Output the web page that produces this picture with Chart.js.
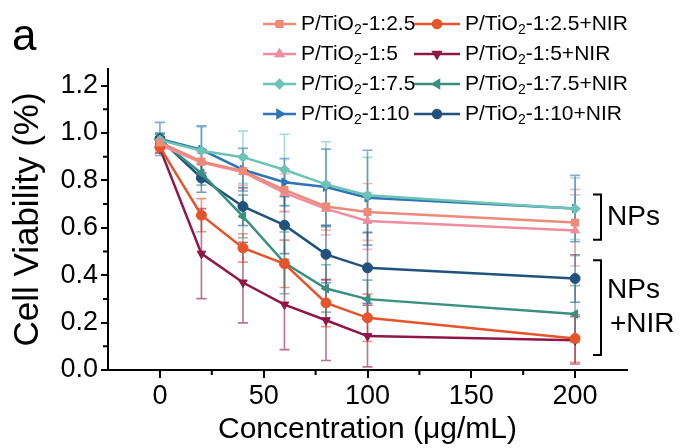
<!DOCTYPE html>
<html>
<head>
<meta charset="utf-8">
<title>Cell Viability</title>
<script src="https://cdn.jsdelivr.net/npm/chart.js@4.4.1/dist/chart.umd.min.js"></script>
<style>
  body { margin: 0; background: #fff; }
  canvas { display: block; }
</style>
</head>
<body>
<canvas id="viabilityChart" width="680" height="448"></canvas>
<script>
// 数据
const concentrations = [0, 20, 40, 60, 80, 100, 200];
const xTickValues = [0, 50, 100, 150, 200];
const xMinorTicks = [25, 75, 125, 175];
const yTickValues = [0, 0.2, 0.4, 0.6, 0.8, 1.0, 1.2];
const yMinorTicks = [0.1, 0.3, 0.5, 0.7, 0.9, 1.1];

const labels = [
    'P/TiO₂-1:2.5', 'P/TiO₂-1:2.5+NIR',
    'P/TiO₂-1:5', 'P/TiO₂-1:5+NIR',
    'P/TiO₂-1:7.5', 'P/TiO₂-1:7.5+NIR',
    'P/TiO₂-1:10', 'P/TiO₂-1:10+NIR'
];

// 均值
const v25 = [0.96, 0.88, 0.84, 0.76, 0.69, 0.667, 0.622];
const v25nir = [0.94, 0.653, 0.515, 0.448, 0.283, 0.22, 0.133];
const v5 = [0.95, 0.875, 0.835, 0.747, 0.68, 0.629, 0.589];
const v5nir = [0.935, 0.491, 0.369, 0.276, 0.21, 0.143, 0.125];
const v75 = [0.97, 0.925, 0.898, 0.845, 0.783, 0.737, 0.68];
const v75nir = [0.97, 0.83, 0.648, 0.452, 0.344, 0.299, 0.236];
const v10 = [0.975, 0.93, 0.845, 0.792, 0.772, 0.727, 0.681];
const v10nir = [0.975, 0.81, 0.69, 0.611, 0.488, 0.431, 0.386];

// 误差
const e25 = [0.02, 0.05, 0.06, 0.09, 0.1, 0.12, 0.14];
const e25nir = [0.02, 0.07, 0.06, 0.1, 0.1, 0.1, 0.1];
const e5 = [0.02, 0.04, 0.07, 0.08, 0.11, 0.12, 0.15];
const e5nir = [0.02, 0.19, 0.17, 0.19, 0.17, 0.13, 0.1];
const e75 = [0.03, 0.1, 0.11, 0.15, 0.18, 0.16, 0.13];
const e75nir = [0.03, 0.05, 0.09, 0.13, 0.1, 0.08, 0.12];
const e10 = [0.07, 0.1, 0.09, 0.1, 0.16, 0.2, 0.14];
const e10nir = [0.02, 0.06, 0.08, 0.12, 0.12, 0.15, 0.1];

const seriesValues = [v25, v25nir, v5, v5nir, v75, v75nir, v10, v10nir];
const seriesErrors = [e25, e25nir, e5, e5nir, e75, e75nir, e10, e10nir];
const seriesColors = ['#EE8A78', '#E5542B', '#EF8DA0', '#8E1746', '#6CC4B4', '#3A9080', '#2E75B6', '#21527E'];
const seriesStyles = ['rect', 'circle', 'triangle', 'triangle', 'rectRot', 'triangle', 'triangle', 'circle'];
const seriesRotations = [0, 0, 0, 180, 0, -90, 90, 0];

const FONT = '"Liberation Sans", Arial, Helvetica, sans-serif';

function hexAlpha(hex, a) {
    const n = parseInt(hex.slice(1), 16);
    return 'rgba(' + (n >> 16) + ',' + ((n >> 8) & 255) + ',' + (n & 255) + ',' + a + ')';
}

// 误差线
const errorBarPlugin = {
    id: 'errorBars',
    beforeDatasetsDraw(chart) {
        const { ctx, scales: { x, y } } = chart;
        chart.data.datasets.forEach((ds, i) => {
            ctx.save();
            ctx.strokeStyle = hexAlpha(ds.borderColor, 0.6);
            ctx.lineWidth = 1.6;
            ds.data.forEach((p, j) => {
                const err = ds.errors[j];
                const px = x.getPixelForValue(p.x);
                const top = y.getPixelForValue(p.y + err);
                const bot = y.getPixelForValue(p.y - err);
                ctx.beginPath();
                ctx.moveTo(px, top); ctx.lineTo(px, bot);
                ctx.moveTo(px - 5, top); ctx.lineTo(px + 5, top);
                ctx.moveTo(px - 5, bot); ctx.lineTo(px + 5, bot);
                ctx.stroke();
            });
            ctx.restore();
        });
    }
};

// 次刻度
const minorTickPlugin = {
    id: 'minorTicks',
    afterDraw(chart) {
        const { ctx, chartArea, scales: { x, y } } = chart;
        ctx.save();
        ctx.strokeStyle = '#000';
        ctx.lineWidth = 2;
        ctx.beginPath();
        xMinorTicks.forEach(v => {
            const px = x.getPixelForValue(v);
            ctx.moveTo(px, chartArea.bottom); ctx.lineTo(px, chartArea.bottom + 5);
        });
        yMinorTicks.forEach(v => {
            const py = y.getPixelForValue(v);
            ctx.moveTo(chartArea.left, py); ctx.lineTo(chartArea.left - 5, py);
        });
        ctx.stroke();
        ctx.restore();
    }
};

// 带下标的文字
function drawSubText(ctx, text, x, y, size) {
    const parts = text.split('₂');
    ctx.font = size + 'px ' + FONT;
    ctx.fillText(parts[0], x, y);
    let cx = x + ctx.measureText(parts[0]).width;
    if (parts.length > 1) {
        ctx.font = Math.round(size * 0.65) + 'px ' + FONT;
        ctx.fillText('2', cx, y + size * 0.3);
        cx += ctx.measureText('2').width;
        ctx.font = size + 'px ' + FONT;
        ctx.fillText(parts[1], cx, y);
    }
}

// 图例及标注
const annotationPlugin = {
    id: 'annotations',
    afterDraw(chart) {
        const { ctx, chartArea, scales: { y } } = chart;
        ctx.save();
        ctx.textBaseline = 'middle';
        ctx.textAlign = 'left';

        // 图例
        chart.data.datasets.forEach((ds, i) => {
            const col = i % 2;
            const row = Math.floor(i / 2);
            const lx = col === 0 ? 263 : 414;
            const lw = col === 0 ? 33 : 46;
            const ly = 24 + row * 30;
            ctx.strokeStyle = ds.borderColor;
            ctx.fillStyle = ds.borderColor;
            ctx.lineWidth = 2.5;
            ctx.beginPath();
            ctx.moveTo(lx, ly); ctx.lineTo(lx + lw, ly);
            ctx.stroke();
            Chart.helpers.drawPoint(ctx, {
                pointStyle: ds.pointStyle,
                rotation: ds.pointRotation,
                radius: 4,
                borderWidth: 1
            }, lx + lw / 2, ly);
            ctx.fillStyle = '#000';
            drawSubText(ctx, ds.label, lx + lw + 5, ly, 21);
        });

        // 面板标记
        ctx.fillStyle = '#000';
        ctx.textBaseline = 'alphabetic';
        ctx.font = '44px ' + FONT;
        ctx.fillText('a', 12, 50);

        // 分组括号
        ctx.strokeStyle = '#000';
        ctx.lineWidth = 2;
        const bx = chartArea.right - 26;
        const groups = [
            { top: 0.74, bottom: 0.55, text: ['NPs'] },
            { top: 0.463, bottom: 0.063, text: ['NPs', '+NIR'] }
        ];
        ctx.textBaseline = 'middle';
        ctx.font = '28px ' + FONT;
        groups.forEach(g => {
            const t = y.getPixelForValue(g.top);
            const b = y.getPixelForValue(g.bottom);
            ctx.beginPath();
            ctx.moveTo(bx - 8, t); ctx.lineTo(bx, t); ctx.lineTo(bx, b); ctx.lineTo(bx - 8, b);
            ctx.stroke();
            const mid = (t + b) / 2;
            if (g.text.length === 1) {
                ctx.fillText(g.text[0], bx + 6, mid);
            } else {
                ctx.fillText(g.text[0], bx + 6, mid - 17);
                ctx.fillText(g.text[1], bx + 9, mid + 17);
            }
        });
        ctx.restore();
    }
};

const datasets = labels.map((label, i) => ({
    label: label,
    data: concentrations.map((c, j) => ({ x: c, y: seriesValues[i][j] })),
    errors: seriesErrors[i],
    borderColor: seriesColors[i],
    backgroundColor: seriesColors[i],
    borderWidth: 2.5,
    pointStyle: seriesStyles[i],
    pointRotation: seriesRotations[i],
    pointRadius: 5,
    pointBorderWidth: 1,
    tension: 0
}));

const axisFont = { family: FONT, size: 27 };

new Chart(document.getElementById('viabilityChart'), {
    type: 'line',
    data: { datasets: datasets },
    options: {
        responsive: false,
        animation: false,
        layout: { padding: { top: 69, right: 53, left: 0, bottom: 0 } },
        plugins: {
            legend: { display: false },
            tooltip: { enabled: false }
        },
        scales: {
            x: {
                type: 'linear',
                min: -25,
                max: 225,
                afterBuildTicks: s => { s.ticks = xTickValues.map(v => ({ value: v })); },
                afterFit: s => { s.height = 78; },
                grid: { drawOnChartArea: false, drawTicks: true, tickLength: 8, color: '#000', lineWidth: 2 },
                border: { display: true, color: '#000', width: 2 },
                ticks: { font: axisFont, color: '#000', padding: 2, maxRotation: 0 },
                title: { display: true, text: 'Concentration (μg/mL)', color: '#000', font: { family: FONT, size: 30 }, padding: { top: 0, bottom: 0 } }
            },
            y: {
                min: 0,
                max: 1.27,
                afterBuildTicks: s => { s.ticks = yTickValues.map(v => ({ value: v })); },
                afterFit: s => { s.width = 108; },
                grid: { drawOnChartArea: false, drawTicks: true, tickLength: 7, color: '#000', lineWidth: 2 },
                border: { display: true, color: '#000', width: 2 },
                ticks: { font: axisFont, color: '#000', padding: 3, callback: v => v.toFixed(1) },
                title: { display: true, text: 'Cell Viability (%)', color: '#000', font: { family: FONT, size: 35 }, padding: { top: 7, bottom: 0 } }
            }
        }
    },
    plugins: [errorBarPlugin, minorTickPlugin, annotationPlugin]
});
</script>
</body>
</html>
